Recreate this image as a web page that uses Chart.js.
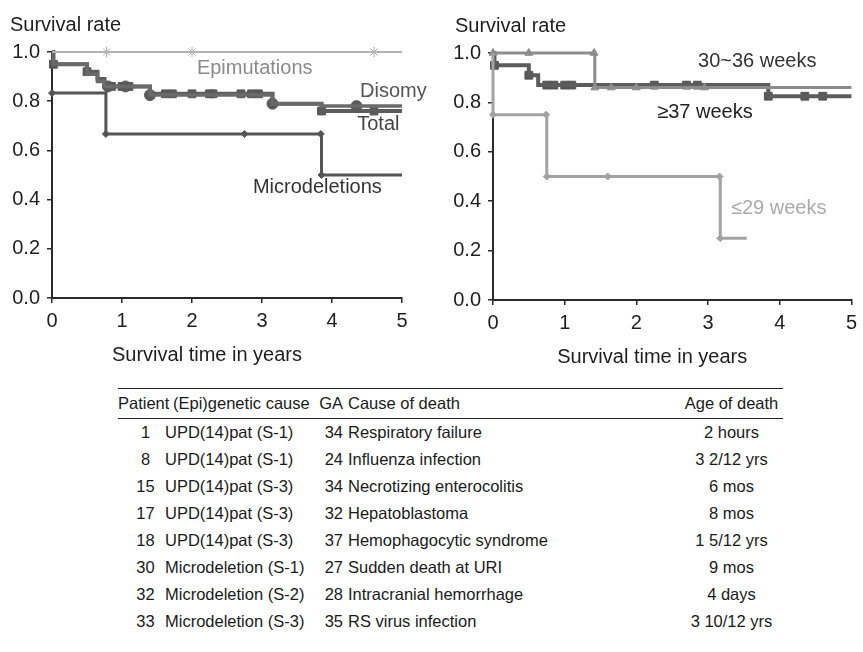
<!DOCTYPE html>
<html>
<head>
<meta charset="utf-8">
<script src="https://cdn.jsdelivr.net/npm/chart.js@4.4.0/dist/chart.umd.min.js"></script>
<style>
  body { margin: 0; background: #fff; width: 863px; height: 652px; overflow: hidden;
         font-family: "Liberation Sans", Arial, sans-serif; color: #222; }
  #leftBox { position: absolute; left: 0; top: 0; width: 430px; height: 370px; }
  #rightBox { position: absolute; left: 430px; top: 0; width: 433px; height: 370px; }
  #deaths { position: absolute; left: 118px; top: 388px; border-collapse: collapse;
            font-family: "Liberation Sans Narrow", "Arial Narrow", "Liberation Sans", Arial, sans-serif;
            font-size: 16.5px; table-layout: fixed; width: 665px; color: #1a1a1a; }
  #deaths th, #deaths td { padding: 0; font-weight: normal; white-space: nowrap; overflow: visible; }
  #deaths thead tr { border-top: 1.5px solid #222; border-bottom: 1.5px solid #222; }
  #deaths th { height: 29px; line-height: 29px; }
  #deaths td { height: 27px; line-height: 27px; }
  .c1 { width: 47px; text-align: center; }
  th.c1 { text-align: left; }
  td.c1 { padding-left: 8px !important; }
  .c2 { width: 140px; text-align: left; }
  th.c2 { padding-left: 8px !important; }
  .c3 { width: 30px; text-align: right; }
  .c4 { width: 332px; text-align: left; padding-left: 5px !important; }
  .c5 { width: 103px; text-align: center; }
</style>
</head>
<body>
<div id="leftBox"><canvas id="leftChart"></canvas></div>
<div id="rightBox"><canvas id="rightChart"></canvas></div>
<table id="deaths"><thead></thead><tbody></tbody></table>
<script>
// ---- left panel: by (epi)genetic cause ----
const totalTimes = [0, 0.02, 0.5, 0.65, 0.75, 1.4, 3.15, 3.85, 5]
const totalSurv = [1, 0.95, 0.92, 0.89, 0.86, 0.83, 0.79, 0.76, 0.76]
const totalMarks = [0.02, 0.5, 0.85, 1.0, 1.1, 1.62, 1.72, 2.0, 2.25, 2.3, 2.7, 2.85, 2.95, 3.85, 4.6]

const disomyTimes = [0, 0.02, 0.5, 0.65, 0.75, 1.4, 3.15, 3.85, 5]
const disomySurv = [1, 0.95, 0.91, 0.88, 0.86, 0.825, 0.79, 0.78, 0.78]
const disomyMarks = [0.8, 1.05, 1.4, 3.15, 4.35]

const epiTimes = [0, 5]
const epiSurv = [1, 1]
const epiMarks = [0.78, 2.0, 4.6]

const microTimes = [0, 0.77, 3.85, 5]
const microSurv = [0.833, 0.667, 0.5, 0.5]
const microMarks = [0, 0.77, 2.75, 3.84, 3.85]

// ---- right panel: by gestational age ----
const ga3036Times = [0, 1.42, 5]
const ga3036Surv = [1, 0.86, 0.86]
const ga3036Marks = [0, 0.5, 1.41, 1.42, 1.65, 2.0, 2.95]

const ga37Times = [0, 0.02, 0.5, 0.63, 3.84, 5]
const ga37Surv = [1, 0.95, 0.91, 0.87, 0.825, 0.825]
const ga37Marks = [0.02, 0.5, 0.75, 0.85, 1.0, 1.1, 2.25, 2.7, 2.85, 3.84, 4.35, 4.6]

const ga29Times = [0, 0, 0.75, 3.17, 3.54]
const ga29Surv = [1, 0.75, 0.5, 0.25, 0.25]
const ga29Marks = [0, 0.74, 0.75, 1.6, 3.16, 3.17]

const xTicks = [0, 1, 2, 3, 4, 5]
const yTicks = [0, 0.2, 0.4, 0.6, 0.8, 1.0]

// ---- table ----
const tableHeader = ['Patient', '(Epi)genetic cause', 'GA', 'Cause of death', 'Age of death']
const patients = ['1', '8', '15', '17', '18', '30', '32', '33']
const geneticCauses = ['UPD(14)pat (S-1)', 'UPD(14)pat (S-1)', 'UPD(14)pat (S-3)', 'UPD(14)pat (S-3)',
  'UPD(14)pat (S-3)', 'Microdeletion (S-1)', 'Microdeletion (S-2)', 'Microdeletion (S-3)']
const gestAges = ['34', '24', '34', '32', '37', '27', '28', '35']
const deathCauses = ['Respiratory failure', 'Influenza infection', 'Necrotizing enterocolitis', 'Hepatoblastoma',
  'Hemophagocytic syndrome', 'Sudden death at URI', 'Intracranial hemorrhage', 'RS virus infection']
const deathAges = ['2 hours', '3 2/12 yrs', '6 mos', '8 mos', '1 5/12 yrs', '9 mos', '4 days', '3 10/12 yrs']

const FONT = '"Liberation Sans", Arial, sans-serif'

function survivalAt (times, surv, t) {
  let v = surv[0]
  times.forEach((x, i) => { if (x <= t) v = surv[i] })
  return v
}

function stepLine (label, times, surv, color, width) {
  return {
    label: label,
    data: times.map((x, i) => ({ x: x, y: surv[i] })),
    stepped: 'before',
    borderColor: color,
    borderWidth: width,
    pointRadius: 0,
    fill: false,
    clip: false
  }
}

function marks (times, surv, at, color, style, radius) {
  return {
    data: at.map(t => ({ x: t, y: survivalAt(times, surv, t) })),
    showLine: false,
    pointStyle: style,
    pointRadius: radius,
    pointBackgroundColor: color,
    pointBorderColor: color,
    clip: false
  }
}

// free text: panel titles and curve names
const notesPlugin = {
  id: 'notes',
  afterDatasetsDraw (chart, args, opts) {
    const { ctx, chartArea, scales } = chart
    ctx.save()
    ctx.textBaseline = 'middle'
    ctx.font = '20px ' + FONT
    ctx.fillStyle = '#1e1e1e'
    ctx.textAlign = 'left'
    ctx.fillText('Survival rate', chartArea.left - opts.titleShift, chartArea.top - 27)
    ctx.textAlign = 'center'
    ctx.fillText('Survival time in years', (chartArea.left + chartArea.right) / 2 - 20, chartArea.bottom + 57)
    ctx.textAlign = 'left'
    opts.items.forEach(n => {
      ctx.fillStyle = n.color
      ctx.fillText(n.text, scales.x.getPixelForValue(n.x), scales.y.getPixelForValue(n.y))
    })
    ctx.restore()
  }
}

function makeOptions (pad, yWidth, xHeight, notes, titleShift) {
  const axisColor = '#2a2a2a'
  return {
    responsive: true,
    maintainAspectRatio: false,
    animation: false,
    layout: { padding: pad },
    plugins: {
      legend: { display: false },
      tooltip: { enabled: false },
      notes: { items: notes, titleShift: titleShift }
    },
    scales: {
      x: {
        type: 'linear',
        min: 0,
        max: 5,
        afterBuildTicks: s => { s.ticks = xTicks.map(v => ({ value: v })) },
        afterFit: s => { s.height = xHeight },
        ticks: { font: { size: 20, family: FONT }, color: '#1e1e1e', padding: 6 },
        grid: { drawOnChartArea: false, drawTicks: true, tickLength: 5, color: axisColor, lineWidth: 1.5 },
        border: { color: axisColor, width: 2 }
      },
      y: {
        min: 0,
        max: 1,
        afterBuildTicks: s => { s.ticks = yTicks.map(v => ({ value: v })) },
        afterFit: s => { s.width = yWidth },
        ticks: { font: { size: 20, family: FONT }, color: '#1e1e1e', padding: 7, callback: v => v.toFixed(1) },
        grid: { drawOnChartArea: false, drawTicks: true, tickLength: 5, color: axisColor, lineWidth: 1.5 },
        border: { color: axisColor, width: 2 }
      }
    }
  }
}

Chart.register(notesPlugin)

const darkGray = '#5c5c5c'
const lightGray = '#b4b4b4'

new Chart(document.getElementById('leftChart'), {
  type: 'line',
  data: {
    datasets: [
      stepLine('Epimutations', epiTimes, epiSurv, lightGray, 2),
      marks(epiTimes, epiSurv, epiMarks, '#a8a8a8', 'star', 5),
      stepLine('Microdeletions', microTimes, microSurv, '#555', 3),
      marks(microTimes, microSurv, microMarks, '#555', 'rectRot', 3.5),
      stepLine('Disomy', disomyTimes, disomySurv, '#6a6a6a', 3.5),
      marks(disomyTimes, disomySurv, disomyMarks, '#5a5a5a', 'circle', 5.5),
      stepLine('Total', totalTimes, totalSurv, darkGray, 4),
      marks(totalTimes, totalSurv, totalMarks, '#585858', 'rect', 5.5)
    ]
  },
  options: makeOptions({ top: 52, right: 28, left: 0, bottom: 0 }, 52, 72, [
    { text: 'Epimutations', x: 2.07, y: 0.935, color: '#8a8a8a' },
    { text: 'Disomy', x: 4.4, y: 0.84, color: '#555' },
    { text: 'Total', x: 4.36, y: 0.705, color: '#444' },
    { text: 'Microdeletions', x: 2.87, y: 0.45, color: '#333' }
  ], 42)
})

new Chart(document.getElementById('rightChart'), {
  type: 'line',
  data: {
    datasets: [
      stepLine('≤29 weeks', ga29Times, ga29Surv, '#a2a2a2', 3),
      marks(ga29Times, ga29Surv, ga29Marks, '#a2a2a2', 'rectRot', 3.5),
      stepLine('30~36 weeks', ga3036Times, ga3036Surv, '#8c8c8c', 3),
      marks(ga3036Times, ga3036Surv, ga3036Marks, '#8c8c8c', 'triangle', 4.5),
      stepLine('≥37 weeks', ga37Times, ga37Surv, darkGray, 4),
      marks(ga37Times, ga37Surv, ga37Marks, '#555', 'rect', 5.5)
    ]
  },
  options: makeOptions({ top: 53, right: 5, left: 0, bottom: 0 }, 63, 70, [
    { text: '30~36 weeks', x: 2.86, y: 0.965, color: '#333' },
    { text: '≥37 weeks', x: 2.29, y: 0.76, color: '#222' },
    { text: '≤29 weeks', x: 3.32, y: 0.372, color: '#aaa' }
  ], 38)
})

// table built from the arrays above
const thead = document.querySelector('#deaths thead')
const tbody = document.querySelector('#deaths tbody')
const cls = ['c1', 'c2', 'c3', 'c4', 'c5']
thead.innerHTML = '<tr>' + tableHeader.map((h, i) => '<th class="' + cls[i] + '">' + h + '</th>').join('') + '</tr>'
patients.forEach((p, i) => {
  const cells = [p, geneticCauses[i], gestAges[i], deathCauses[i], deathAges[i]]
  const tr = document.createElement('tr')
  tr.innerHTML = cells.map((c, j) => '<td class="' + cls[j] + '">' + c + '</td>').join('')
  tbody.appendChild(tr)
})
</script>
</body>
</html>
